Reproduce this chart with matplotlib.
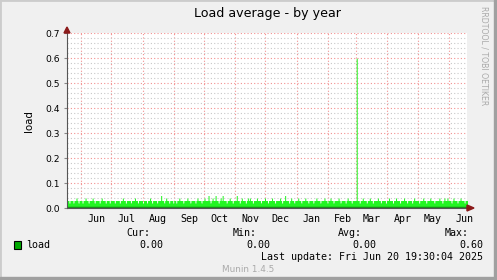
import datetime as dt
import numpy as np
import matplotlib
matplotlib.use("Agg")
import matplotlib.pyplot as plt
import matplotlib.dates as mdates
from matplotlib.patches import Rectangle, Polygon

# ---- data (daily load average, hundredths) ----
may24 = [3, 3, 2, 3, 3, 3, 2, 3, 3, 4, 3, 2, 3, 3]
jun24 = [3, 2, 3, 3, 4, 3, 3, 2, 3, 3, 3, 4, 3, 2, 3, 3, 3, 3, 2, 3, 4, 3, 3, 3, 2, 3, 3, 3, 2, 3]
jul24 = [3, 3, 3, 2, 3, 3, 3, 3, 2, 3, 3, 4, 3, 3, 2, 3, 3, 3, 3, 2, 3, 3, 3, 4, 3, 3, 2, 3, 3, 3, 3]
aug24 = [2, 3, 3, 3, 2, 3, 3, 4, 3, 2, 3, 3, 3, 3, 2, 3, 3, 3, 5, 3, 3, 2, 3, 4, 3, 3, 2, 3, 3, 3, 2]
sep24 = [3, 3, 2, 3, 3, 4, 3, 3, 3, 2, 3, 3, 3, 4, 3, 3, 2, 3, 3, 3, 3, 2, 3, 4, 3, 3, 3, 2, 3, 3]
oct24 = [4, 3, 3, 3, 5, 3, 2, 3, 4, 3, 3, 5, 3, 3, 2, 3, 4, 3, 5, 3, 3, 3, 2, 3, 3, 4, 3, 3, 2, 3, 3]
nov24 = [3, 5, 3, 3, 2, 3, 4, 3, 3, 3, 2, 3, 4, 3, 4, 3, 3, 2, 3, 3, 3, 4, 3, 3, 3, 2, 3, 3, 3, 4]
dec24 = [3, 3, 2, 3, 3, 3, 4, 3, 3, 2, 3, 3, 3, 3, 4, 3, 2, 3, 3, 5, 3, 3, 3, 2, 3, 4, 3, 3, 2, 3, 3]
jan25 = [3, 4, 3, 3, 2, 3, 3, 3, 4, 3, 3, 2, 3, 3, 3, 3, 2, 3, 3, 4, 3, 3, 3, 2, 3, 3, 3, 4, 3, 3, 2]
feb25 = [3, 3, 4, 3, 3, 2, 3, 3, 3, 3, 4, 3, 2, 3, 3, 3, 3, 2, 3, 4, 3, 3, 3, 2, 3, 3, 3, 3]
mar25 = [60, 3, 3, 2, 3, 3, 4, 3, 3, 3, 2, 3, 3, 4, 3, 3, 2, 3, 3, 3, 3, 4, 3, 3, 2, 3, 3, 3, 3, 2, 3]
apr25 = [3, 4, 3, 3, 3, 2, 3, 3, 4, 3, 3, 3, 2, 3, 3, 3, 4, 3, 3, 2, 3, 3, 3, 3, 2, 3, 4, 3, 3, 3]
may25 = [3, 2, 3, 3, 3, 4, 3, 3, 2, 3, 3, 3, 4, 3, 3, 3, 2, 3, 3, 3, 3, 4, 3, 3, 2, 3, 4, 3, 3, 4, 3]
jun25 = [3, 3, 2, 3, 4, 3, 3, 3, 2, 3, 3, 4, 3, 3, 3, 2, 3, 3, 3]

start_date = dt.datetime(2024, 5, 18)
month_labels = ["Jun", "Jul", "Aug", "Sep", "Oct", "Nov", "Dec",
                "Jan", "Feb", "Mar", "Apr", "May", "Jun"]
stats_labels = ["Cur:", "Min:", "Avg:", "Max:"]
stats_values = ["0.00", "0.00", "0.00", "0.60"]

vals = np.array(may24 + jun24 + jul24 + aug24 + sep24 + oct24 + nov24 + dec24
                + jan25 + feb25 + mar25 + apr25 + may25 + jun25) / 100.0
dates = [start_date + dt.timedelta(days=i) for i in range(len(vals) + 1)]
vals_ext = np.append(vals, vals[-1])

W, H = 497, 280
fig = plt.figure(figsize=(W / 100, H / 100), dpi=100, facecolor="#F0F0F0")

def fx(x):
    return x / W

def fy(y):
    return 1 - y / H

ax = fig.add_axes([fx(67), fy(208), fx(467) - fx(67), fy(33.3) - fy(208)])
ax.set_facecolor("white")

xmin = mdates.date2num(dt.datetime(2024, 5, 18, 2))
xmax = mdates.date2num(dt.datetime(2025, 6, 18, 22))
ax.set_xlim(xmin, xmax)
ax.set_ylim(0, 0.7)

# grid
month_starts = [dt.datetime(2024, 6, 1)]
for k in range(1, 13):
    y_, m_ = divmod(5 + k, 12)
    month_starts.append(dt.datetime(2024 + y_, m_ + 1, 1))
mid_months = [d + dt.timedelta(days=15) for d in month_starts]

for d in month_starts:
    ax.axvline(mdates.date2num(d), color="#F29090", lw=0.8, ls=(0, (1, 2)), zorder=1)
for yv in np.arange(0.02, 0.7, 0.02):
    if abs(round(yv * 10) - yv * 10) < 1e-6:
        continue
    ax.axhline(yv, color="#C8C8C8", lw=0.8, ls=(0, (1, 2)), zorder=1)
for yv in np.arange(0.1, 0.71, 0.1):
    ax.axhline(yv, color="#F29090", lw=0.8, ls=(0, (1, 2)), zorder=1)

dnum = mdates.date2num(dates)
ax.fill_between(dnum, vals_ext, step="post", color="#22F522", lw=0, zorder=3,
                antialiased=False)
ax.fill_between(dnum, np.minimum(vals_ext, 0.007), step="post", color="#1A8A1A", lw=0,
                zorder=4, antialiased=False)

ax.set_xticks(mdates.date2num(month_starts))
ax.set_xticklabels([])
ax.set_xticks(mdates.date2num(mid_months), minor=True)
ax.set_xticklabels(month_labels, minor=True, family="DejaVu Sans Mono", fontsize=7.2)
ax.tick_params(axis="x", which="minor", length=0, pad=4)
ax.tick_params(axis="x", which="major", length=0)
ax.set_yticks(np.arange(0, 0.71, 0.1))
ax.set_yticklabels(["%.1f" % v for v in np.arange(0, 0.71, 0.1)], fontsize=6.6)
ax.tick_params(axis="y", length=2, color="#888888", pad=3)

for s in ["top", "right"]:
    ax.spines[s].set_visible(False)
ax.spines["left"].set_color("#555555")
ax.spines["bottom"].set_color("#555555")
ax.spines["left"].set_linewidth(0.8)
ax.spines["bottom"].set_linewidth(0.8)
ax.spines["left"].set_zorder(5)
ax.spines["bottom"].set_zorder(5)

ax.set_ylabel("load", fontsize=7.4, labelpad=8)

# arrows
fig.patches.append(Polygon([[fx(64), fy(33)], [fx(70), fy(33)], [fx(67), fy(27)]],
                           closed=True, color="#8B1A1A", transform=fig.transFigure, figure=fig))
fig.patches.append(Polygon([[fx(467), fy(205)], [fx(467), fy(211)], [fx(474), fy(208)]],
                           closed=True, color="#8B1A1A", transform=fig.transFigure, figure=fig))

# title
fig.text(fx(267.5), fy(14), "Load average - by year", ha="center", va="center", fontsize=9.1)
fig.text(fx(484), fy(56), "RRDTOOL / TOBI OETIKER", rotation=-90, ha="center", va="center",
         fontsize=5.6, color="#AAAAAA")

# legend
fig.patches.append(Rectangle((fx(13.5), fy(248.5)), fx(7.5), 7.5 / H, facecolor="#00AA00",
                             edgecolor="black", lw=0.8, transform=fig.transFigure, figure=fig))
mono = dict(family="DejaVu Sans Mono", fontsize=7.2)
fig.text(fx(26), fy(245), "load", ha="left", va="center", **mono)
for lab, xr in zip(stats_labels, [150, 257, 362, 469]):
    fig.text(fx(xr), fy(233), lab, ha="right", va="center", **mono)
for v, xr in zip(stats_values, [163, 270, 376, 483]):
    fig.text(fx(xr), fy(245), v, ha="right", va="center", **mono)
fig.text(fx(483), fy(257), "Last update: Fri Jun 20 19:30:04 2025", ha="right", va="center", **mono)
fig.text(fx(248), fy(270), "Munin 1.4.5", ha="center", va="center", fontsize=6.4, color="#AAAAAA")

# frame
fig.patches.append(Rectangle((0, 0), 1, 1, fill=False, edgecolor="#CCCCCC", lw=2,
                             transform=fig.transFigure, figure=fig))
fig.patches.append(Rectangle((fx(494), 0), fx(3), 1, color="#A0A0A0",
                             transform=fig.transFigure, figure=fig))
fig.patches.append(Rectangle((0, 0), 1, 3 / H, color="#A0A0A0",
                             transform=fig.transFigure, figure=fig))

fig.savefig("out.png", dpi=100, facecolor=fig.get_facecolor())
